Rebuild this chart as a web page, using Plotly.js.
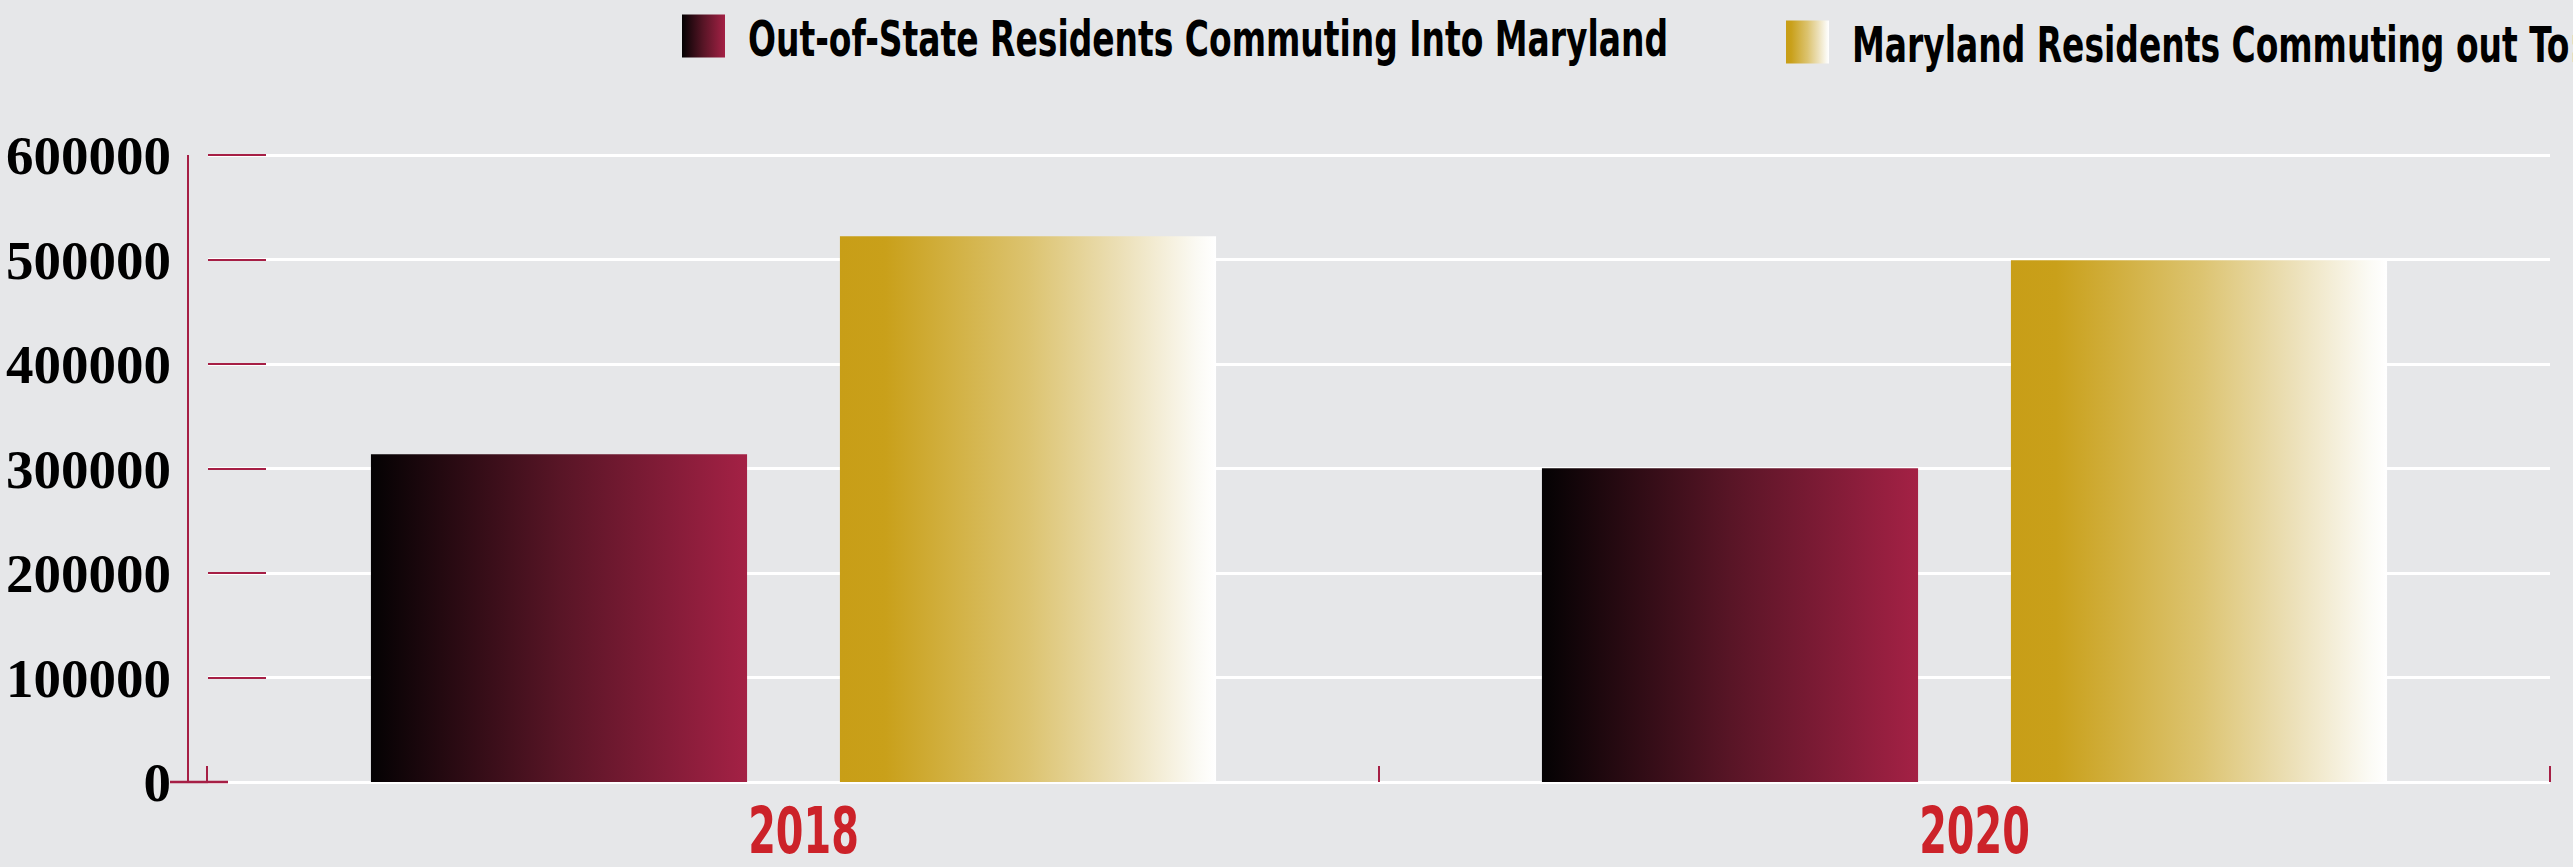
<!DOCTYPE html>
<html><head><meta charset="utf-8">
<script src="https://cdn.plot.ly/plotly-3.0.1.min.js"></script>
<style>html,body{margin:0;padding:0;background:#e6e7e9;overflow:hidden}#chart{width:2573px;height:867px}</style>
</head><body><div id="chart"></div>
<script>
// ---- data ----
const years = ['2018', '2020'];
const seriesNames = ['Out-of-State Residents Commuting Into Maryland', 'Maryland Residents Commuting out To:'];
const inbound = [313700, 300300];
const outbound = [522400, 499200];
const yTickVals = [0, 100000, 200000, 300000, 400000, 500000, 600000];
const yTickText = ['0', '100000', '200000', '300000', '400000', '500000', '600000'];

// ---- layout constants ----
const W = 2573, H = 867, L = 208, R = 23, B = 85;
const YMAX = 601000;
const PH = 627 * YMAX / 600000;
const T = H - B - PH;
const PW = W - L - R;
const crimson = '#a61f45';
const bg = '#e6e7e9';
const cond = '"DejaVu Sans Condensed", "Liberation Sans Narrow", "DejaVu Sans", sans-serif';
const px2py = p => (H - B - p) / PH;
const px2px = p => (p - L) / PW;

const data = [
  {type: 'bar', x: years, y: inbound, name: seriesNames[0], legend: 'legend', marker: {color: '#6a1628', line: {width: 0}}},
  {type: 'bar', x: years, y: outbound, name: seriesNames[1], legend: 'legend2', marker: {color: '#dcc36f', line: {width: 0}}}
];

const legFont = {family: cond, size: 50, color: '#000', weight: 'bold'};
const layout = {
  width: W, height: H,
  margin: {l: L, r: R, t: T, b: B, pad: 0, autoexpand: false},
  paper_bgcolor: bg, plot_bgcolor: bg,
  barmode: 'group', bargap: 0.199, bargroupgap: 0.198,
  showlegend: true,
  legend: {orientation: 'h', x: px2px(708), xanchor: 'left', y: px2py(36), yanchor: 'middle',
    font: legFont, bgcolor: 'rgba(0,0,0,0)', borderwidth: 0},
  legend2: {orientation: 'h', x: px2px(1812), xanchor: 'left', y: px2py(42), yanchor: 'middle',
    font: legFont, bgcolor: 'rgba(0,0,0,0)', borderwidth: 0},
  xaxis: {
    type: 'category', range: [-0.5, 1.5], tickson: 'boundaries',
    ticks: 'inside', ticklen: 16, tickwidth: 2, tickcolor: crimson,
    showgrid: false, showline: false, zeroline: false,
    tickfont: {family: cond, size: 64, color: '#cc2229', weight: 'bold'},
    ticklabelstandoff: 6, ticklabelshift: 10, fixedrange: true
  },
  yaxis: {
    range: [0, YMAX], tickmode: 'array', tickvals: yTickVals, ticktext: yTickText,
    ticks: 'inside', ticklen: 58, tickwidth: 2, tickcolor: crimson,
    showgrid: true, gridcolor: '#ffffff', gridwidth: 3,
    zeroline: true, zerolinecolor: '#ffffff', zerolinewidth: 3,
    showline: false,
    tickfont: {family: '"Liberation Serif", "Times New Roman", serif', size: 55, color: '#000', weight: 'bold'},
    ticklabelstandoff: 36, fixedrange: true
  },
  shapes: [
    {type: 'line', xref: 'paper', yref: 'paper', x0: -20 / PW, x1: -20 / PW, y0: 0, y1: 600000 / YMAX, line: {color: crimson, width: 2}, layer: 'above'},
    {type: 'line', xref: 'paper', yref: 'paper', x0: -38 / PW, x1: 20 / PW, y0: 0, y1: 0, line: {color: crimson, width: 2.5}, layer: 'above'},
    {type: 'line', xref: 'paper', yref: 'paper', x0: -1 / PW, x1: -1 / PW, y0: 0, y1: 16 / PH, line: {color: crimson, width: 2}, layer: 'above'},
    {type: 'line', xref: 'paper', yref: 'paper', x0: 1, x1: 1, y0: 0, y1: 16 / PH, line: {color: crimson, width: 2}, layer: 'above'}
  ]
};

const NS = 'http://www.w3.org/2000/svg';
const gradDefs = {
  gradMaroon: [[0, '#040203'], [0.5, '#581526'], [1, '#a42145']],
  gradGold: [[0, '#c89e17'], [0.12, '#c9a01a'], [0.5, '#dcc36f'], [0.75, '#ece0b8'], [0.95, '#fbfaf4'], [1, '#ffffff']]
};
const ids = ['gradMaroon', 'gradGold'];
function ensureGradients() {
  if (document.getElementById('gradHolder')) return;
  const holder = document.createElementNS(NS, 'svg');
  holder.setAttribute('id', 'gradHolder');
  holder.setAttribute('width', '0'); holder.setAttribute('height', '0');
  holder.style.position = 'absolute'; holder.style.left = '0'; holder.style.top = '0';
  const defs = document.createElementNS(NS, 'defs');
  holder.appendChild(defs);
  Object.keys(gradDefs).forEach(id => {
    const lg = document.createElementNS(NS, 'linearGradient');
    lg.setAttribute('id', id);
    lg.setAttribute('x1', '0'); lg.setAttribute('x2', '1'); lg.setAttribute('y1', '0'); lg.setAttribute('y2', '0');
    gradDefs[id].forEach(([o, c]) => {
      const s = document.createElementNS(NS, 'stop');
      s.setAttribute('offset', o); s.setAttribute('stop-color', c);
      lg.appendChild(s);
    });
    defs.appendChild(lg);
  });
  document.body.appendChild(holder);
}
let legendScale = null;
function decorate(gd) {
  ensureGradients();
  gd.querySelectorAll('.barlayer .trace').forEach((tr, i) => {
    tr.querySelectorAll('path').forEach(p => { p.style.fill = 'url(#' + ids[i] + ')'; p.style.stroke = 'none'; });
  });
  gd.querySelectorAll('.infolayer [clip-path]').forEach(el => el.removeAttribute('clip-path'));
  const allTexts = Array.from(gd.querySelectorAll('.infolayer text'));
  seriesNames.forEach((name, idx) => {
    allTexts.filter(t => t.textContent.trim() === name).forEach(t => {
      if (!t.hasAttribute('data-done')) {
        const w = t.getComputedTextLength();
        if (legendScale === null || idx === 0) legendScale = 920 / w;
        t.setAttribute('textLength', (w * legendScale).toFixed(1));
        t.setAttribute('lengthAdjust', 'spacingAndGlyphs');
        t.setAttribute('data-done', '1');
      }
      let item = t.parentNode, p = null;
      for (let k = 0; k < 4 && item && !p; k++) { p = item.querySelector && item.querySelector('.legendpoints path'); if (!p) item = item.parentNode; }
      if (!p) return;
      if (!p.hasAttribute('data-done')) {
        const pb = p.getBoundingClientRect();
        const tb = t.getBoundingClientRect();
        const cx = (pb.left + pb.right) / 2;
        const x0 = tb.left - 66 - cx, x1 = tb.left - 23 - cx;
        p.setAttribute('d', 'M' + x0 + ',-21.5H' + x1 + 'V21.5H' + x0 + 'Z');
        p.setAttribute('data-done', '1');
      }
      p.style.fill = 'url(#' + ids[idx] + ')';
      p.style.stroke = 'none';
    });
  });
  gd.querySelectorAll('.xtick text').forEach(t => {
    if (t.hasAttribute('data-done')) return;
    const w = t.getComputedTextLength();
    t.setAttribute('textLength', (w * 0.69).toFixed(1));
    t.setAttribute('lengthAdjust', 'spacingAndGlyphs');
    t.setAttribute('data-done', '1');
  });
}
const gdEl = document.getElementById('chart');
function safeDecorate() {
  obs.disconnect();
  try { decorate(gdEl); } catch (e) { console.error(e); }
  obs.takeRecords();
  obs.observe(gdEl, {childList: true, subtree: true});
}
const obs = new MutationObserver(safeDecorate);
obs.observe(gdEl, {childList: true, subtree: true});
Plotly.newPlot(gdEl, data, layout, {staticPlot: true, displayModeBar: false}).then(() => safeDecorate());
</script>
</body></html>
